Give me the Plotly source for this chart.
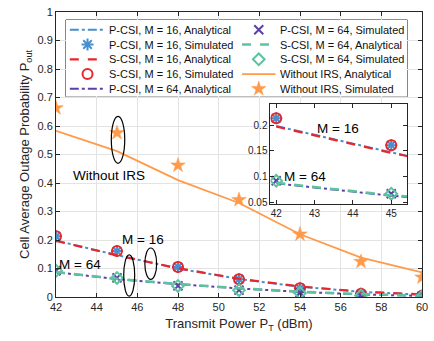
import plotly.graph_objects as go

# ---------------- data ----------------
power_dbm = [42, 45, 48, 51, 54, 57, 60]
p16_analytical = [0.198, 0.147, 0.100, 0.063, 0.036, 0.018, 0.008]
p16_simulated = [0.213, 0.161, 0.105, 0.062, 0.031, 0.011, 0.004]
s16_analytical = [0.197, 0.146, 0.101, 0.064, 0.037, 0.019, 0.009]
s16_simulated = [0.213, 0.161, 0.105, 0.062, 0.031, 0.011, 0.004]
p64_analytical = [0.087, 0.063, 0.045, 0.030, 0.018, 0.009, 0.004]
p64_simulated = [0.092, 0.067, 0.039, 0.024, 0.014, 0.005, 0.002]
s64_analytical = [0.088, 0.064, 0.046, 0.031, 0.019, 0.010, 0.005]
s64_simulated = [0.092, 0.067, 0.039, 0.024, 0.014, 0.005, 0.002]
woirs_analytical = [0.583, 0.512, 0.410, 0.330, 0.220, 0.138, 0.086]
woirs_simulated = [0.663, 0.576, 0.462, 0.341, 0.220, 0.124, 0.069]

main_yticks = [0, 0.1, 0.2, 0.3, 0.4, 0.5, 0.6, 0.7, 0.8, 0.9, 1]
main_xticks = [42, 44, 46, 48, 50, 52, 54, 56, 58, 60]
inset_xticks = [42, 43, 44, 45]
inset_yticks = [0.05, 0.1, 0.15, 0.2]

BLUE = "#4a8fcc"
RED = "#e8262e"
PURPLE = "#5a3fa6"
TEAL = "#5cc3a0"
ORANGE = "#ff9a4a"
FONT = "Liberation Sans, Arial, sans-serif"

series = [
    # name, y, kind, color, dash/symbol, width/size
    ("P-CSI, M = 16, Analytical", p16_analytical, "line", BLUE, "dashdot", 2),
    ("P-CSI, M = 16, Simulated", p16_simulated, "marker", BLUE, "asterisk-open", 10),
    ("S-CSI, M = 16, Analytical", s16_analytical, "line", RED, "dash", 2.2),
    ("S-CSI, M = 16, Simulated", s16_simulated, "marker", RED, "circle-open", 10),
    ("P-CSI, M = 64, Analytical", p64_analytical, "line", PURPLE, "dashdot", 2),
    ("P-CSI, M = 64, Simulated", p64_simulated, "marker", PURPLE, "x-thin-open", 9),
    ("S-CSI, M = 64, Analytical", s64_analytical, "line", TEAL, "dash", 2.5),
    ("S-CSI, M = 64, Simulated", s64_simulated, "marker", TEAL, "diamond-open", 9),
    ("Without IRS, Analytical", woirs_analytical, "line", ORANGE, "solid", 1.8),
    ("Without IRS, Simulated", woirs_simulated, "marker", ORANGE, "star", 11),
]


def make_trace(x, y, name, kind, color, style, size, xa, ya):
    if kind == "line":
        return go.Scatter(x=x, y=y, name=name, mode="lines", xaxis=xa, yaxis=ya,
                          showlegend=False, line=dict(color=color, dash=style, width=size))
    lw = 2 if style != "star" else 0.5
    return go.Scatter(x=x, y=y, name=name, mode="markers", xaxis=xa, yaxis=ya, showlegend=False,
                      marker=dict(symbol=style, size=size, color=color,
                                  line=dict(color=color, width=lw)))


fig = go.Figure()

for xa, ya in (("x", "y"), ("x2", "y2")):
    for name, y, kind, color, style, size in series:
        if xa == "x2" and name.startswith("Without"):
            continue
        fig.add_trace(make_trace(power_dbm, y, name, kind, color, style, size, xa, ya))

# ---------------- legend (drawn on its own unit axes) ----------------
LEG_W, LEG_H = 347.0, 78.0          # legend box size in px
row_offsets = [10, 25, 40, 55, 70]  # row centres from top, px
col_line = [(4, 40), (179, 213)]    # line sample start/end, px
col_text = [42, 216]                # text start, px
for k, (name, y, kind, color, style, size) in enumerate(series):
    col, row = divmod(k, 5)
    yy = 1 - row_offsets[row] / LEG_H
    x0, x1 = col_line[col][0] / LEG_W, col_line[col][1] / LEG_W
    if kind == "line":
        fig.add_trace(make_trace([x0, x1], [yy, yy], name, kind, color, style, size, "x3", "y3"))
    else:
        fig.add_trace(make_trace([(x0 + x1) / 2], [yy], name, kind, color, style, size, "x3", "y3"))
    fig.add_annotation(text=name, x=col_text[col] / LEG_W, y=yy, xref="x3", yref="y3",
                       xanchor="left", yanchor="middle", showarrow=False,
                       font=dict(family=FONT, size=11, color="#111111"))

axis_common = dict(
    showline=True, linecolor="#262626", linewidth=1, mirror="ticks",
    ticks="inside", ticklen=4, tickcolor="#262626",
    tickfont=dict(family=FONT, size=11, color="#262626"),
    zeroline=False,
)
inset_axis = {**axis_common, "tickfont": dict(family=FONT, size=10, color="#262626")}
hidden_axis = dict(visible=False, range=[0, 1], fixedrange=True, showgrid=False, zeroline=False)

fig.update_layout(
    width=434, height=341,
    margin=dict(l=56, r=6, t=7, b=44),
    paper_bgcolor="white", plot_bgcolor="white",
    font=dict(family=FONT, color="#262626"),
    showlegend=False,
    xaxis=dict(range=[42, 60], tickvals=main_xticks, showgrid=True, gridcolor="#e3e3e3",
               title=dict(text="Transmit Power P<sub>T</sub> (dBm)", font=dict(size=13), standoff=6),
               domain=[0, 1], **axis_common),
    yaxis=dict(range=[0, 1], tickvals=main_yticks, showgrid=True, gridcolor="#e3e3e3",
               title=dict(text="Cell Average Outage Probability P<sub>out</sub>", font=dict(size=13), standoff=4),
               domain=[0, 1], **axis_common),
    xaxis2=dict(range=[41.85, 45.42], tickvals=inset_xticks, showgrid=False, anchor="y2",
                domain=[0.586, 0.96], **inset_axis),
    yaxis2=dict(range=[0.048, 0.24], tickvals=inset_yticks, showgrid=False, anchor="x2",
                domain=[0.328, 0.676], **inset_axis),
    xaxis3=dict(domain=[0.027, 0.96], anchor="y3", **hidden_axis),
    yaxis3=dict(domain=[0.703, 0.972], anchor="x3", **hidden_axis),
)

# white backgrounds for inset and legend box
fig.add_shape(type="rect", xref="x2 domain", yref="y2 domain", x0=0, x1=1, y0=0, y1=1,
              fillcolor="white", line=dict(width=0), layer="below")
fig.add_shape(type="rect", xref="x3 domain", yref="y3 domain", x0=0, x1=1, y0=0, y1=1,
              fillcolor="white", line=dict(color="#262626", width=1), layer="below")

# ellipses (annotation decorations)
ellipses = [(44.72, 45.38, 0.469, 0.634), (46.37, 46.95, 0.062, 0.172), (45.33, 45.87, 0.003, 0.148)]
for x0, x1, y0, y1 in ellipses:
    fig.add_shape(type="circle", xref="x", yref="y", x0=x0, x1=x1, y0=y0, y1=y1,
                  line=dict(color="black", width=1.2))

labels = [("Without IRS", 44.6, 0.428, "x", "y"), ("M = 16", 46.3, 0.203, "x", "y"),
          ("M = 64", 43.2, 0.114, "x", "y"), ("M = 16", 43.6, 0.194, "x2", "y2"),
          ("M = 64", 42.75, 0.100, "x2", "y2")]
for text, lx, ly, xr, yr in labels:
    fig.add_annotation(text=text, x=lx, y=ly, xref=xr, yref=yr, showarrow=False,
                       font=dict(family=FONT, size=13.5, color="black"))

fig.write_html("out.html")
